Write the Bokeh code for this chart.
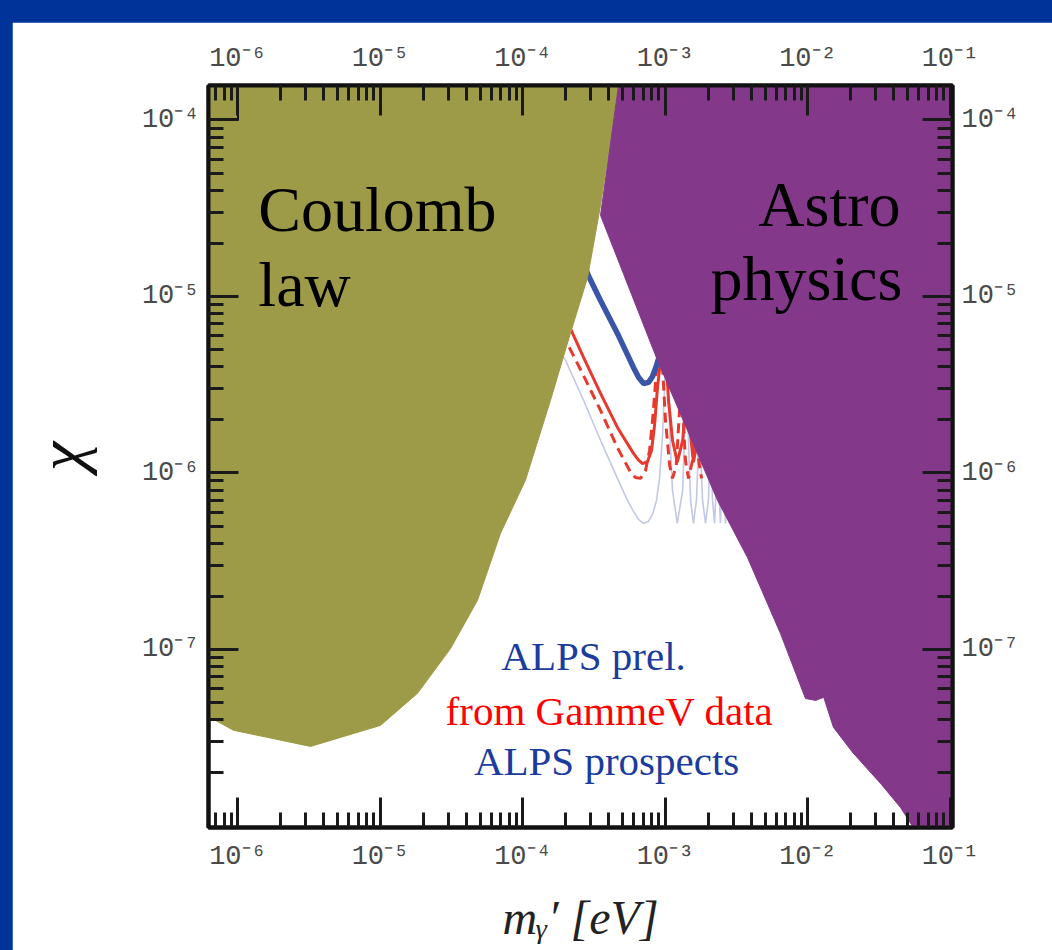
from bokeh.plotting import figure
from bokeh.models import LogAxis, FixedTicker, CustomJSTickFormatter, Label
from bokeh.layouts import column
from bokeh.embed import file_html
from bokeh.resources import INLINE

# ---------------- data ----------------
x_major = [1e-6, 1e-5, 1e-4, 1e-3, 1e-2, 1e-1]
y_major = [1e-7, 1e-6, 1e-5, 1e-4]

coulomb_m = [5e-7, 4.8e-4, 4.7e-4, 3.5e-4, 2.84e-4, 2.15e-4, 1.56e-4, 1.04e-4, 6.95e-5,
             4.80e-5, 3.10e-5, 1.82e-5, 1.0e-5, 3.23e-6, 9.29e-7, 6.2e-7, 5e-7]
coulomb_chi = [1e-3, 1e-3, 1.6e-4, 3.28e-5, 1.28e-5, 6.17e-6, 2.58e-6, 9.08e-7, 4.54e-7,
               1.90e-7, 1.01e-7, 5.64e-8, 3.71e-8, 2.82e-8, 3.48e-8, 4.17e-8, 4.3e-8]

astro_m = [4.8e-4, 0.2, 0.2, 5.86e-2, 4.46e-2, 3.23e-2, 2.08e-2, 1.51e-2, 1.29e-2, 1.13e-2,
           9.6e-3, 6.41e-3, 3.76e-3, 2.32e-3, 8.79e-4, 3.5e-4, 4.7e-4]
astro_chi = [1e-3, 1e-3, 9e-9, 9e-9, 1.27e-8, 1.74e-8, 2.58e-8, 3.61e-8, 5.35e-8, 5.14e-8,
             5.27e-8, 1.23e-7, 3.32e-7, 6.98e-7, 4.34e-6, 2.88e-5, 1.6e-4]

alps_m = [2.45e-4, 2.88e-4, 3.5e-4, 4.60e-4, 5.96e-4, 6.47e-4, 7.02e-4, 7.60e-4, 8.11e-4,
          8.65e-4, 9.53e-4]
alps_chi = [1.82e-5, 1.31e-5, 9.49e-6, 6.17e-6, 3.96e-6, 3.48e-6, 3.21e-6, 3.26e-6, 3.52e-6,
            4.06e-6, 5.27e-6]

gammev_m = [1.83e-4, 2.15e-4, 2.66e-4, 3.5e-4, 4.60e-4, 5.96e-4, 6.47e-4, 6.90e-4, 7.48e-4,
            7.98e-4, 8.38e-4, 8.79e-4, 9.23e-4, 9.84e-4, 1.05e-3, 1.12e-3, 1.21e-3, 1.32e-3,
            1.43e-3, 1.50e-3, 1.57e-3, 1.68e-3, 1.79e-3, 1.91e-3, 2.04e-3]
gammev_chi = [8.89e-6, 6.59e-6, 4.51e-6, 2.82e-6, 1.81e-6, 1.29e-6, 1.18e-6, 1.13e-6, 1.16e-6,
              1.34e-6, 1.86e-6, 3.05e-6, 4.34e-6, 6.41e-6, 2.58e-6, 1.53e-6, 1.15e-6, 1.53e-6,
              3.34e-6, 1.63e-6, 1.15e-6, 1.53e-6, 2.58e-6, 1.53e-6, 1.15e-6]

gammev2_m = [1.69e-4, 2.08e-4, 2.66e-4, 3.5e-4, 4.60e-4, 5.68e-4, 6.15e-4, 6.68e-4, 7.24e-4,
             7.73e-4, 8.11e-4, 8.65e-4, 9.23e-4, 1.0e-3, 1.07e-3, 1.12e-3, 1.19e-3, 1.29e-3,
             1.38e-3, 1.45e-3, 1.55e-3, 1.63e-3, 1.71e-3, 1.79e-3]
gammev2_chi = [7.5e-6, 5.27e-6, 3.56e-6, 2.26e-6, 1.39e-6, 1.01e-6, 9.42e-7, 9.31e-7, 1.03e-6,
               1.34e-6, 1.98e-6, 3.81e-6, 6.41e-6, 1.98e-6, 1.10e-6, 9.31e-7, 1.10e-6, 3.34e-6,
               1.18e-6, 9.31e-7, 1.18e-6, 2.58e-6, 1.18e-6, 9.31e-7]

prospect_m = [1.44e-4, 1.99e-4, 2.66e-4, 3.5e-4, 4.60e-4, 5.32e-4, 5.96e-4, 6.47e-4, 7.02e-4,
              7.60e-4, 8.11e-4, 8.65e-4, 9.08e-4, 9.53e-4, 9.84e-4, 1.02e-3, 1.07e-3, 1.12e-3,
              1.21e-3, 1.32e-3, 1.40e-3, 1.50e-3, 1.57e-3, 1.65e-3, 1.73e-3, 1.82e-3, 1.91e-3,
              2.00e-3, 2.07e-3, 2.14e-3, 2.21e-3, 2.32e-3, 2.43e-3, 2.51e-3, 2.64e-3, 2.72e-3,
              2.86e-3]
prospect_chi = [6.41e-6, 4.34e-6, 2.58e-6, 1.53e-6, 9.31e-7, 7.18e-7, 6.05e-7, 5.46e-7, 5.18e-7,
                5.31e-7, 5.82e-7, 6.98e-7, 9.31e-7, 1.63e-6, 2.93e-6, 5.64e-6, 1.74e-6, 7.96e-7,
                5.18e-7, 7.96e-7, 3.34e-6, 6.98e-7, 5.18e-7, 6.98e-7, 1.98e-6, 6.98e-7, 5.18e-7,
                6.98e-7, 1.53e-6, 6.98e-7, 5.18e-7, 1.2e-6, 5.18e-7, 1.2e-6, 5.18e-7, 1.2e-6,
                5.18e-7]

# ---------------- styling ----------------
PAGE_BLUE = "#003399"
OLIVE = "#9d9b47"
PURPLE = "#84388a"
TEXT_BLUE = "#1b3c9e"
TEXT_RED = "#ff0000"

p = figure(width=1040, height=928, margin=(22, 0, 0, 12),
           x_axis_type="log", y_axis_type="log",
           x_range=(6.21e-7, 1.033e-1), y_range=(9.79e-9, 1.567e-4),
           output_backend="svg", toolbar_location=None,
           min_border_left=196, min_border_right=100, min_border_top=63, min_border_bottom=123,
           background_fill_color="white", border_fill_color="white")
p.grid.visible = False
p.outline_line_color = "#111111"
p.outline_line_width = 4

# curves (drawn first so that the exclusion regions cover their ends)
p.line(prospect_m, prospect_chi, line_color="#c3c8e6", line_width=1.6)
p.line(gammev2_m, gammev2_chi, line_color="#e8392e", line_width=3, line_dash="10 6")
p.line(gammev_m, gammev_chi, line_color="#e8392e", line_width=3)
p.line(alps_m, alps_chi, line_color="#3a55a8", line_width=5.5)

p.patch(coulomb_m, coulomb_chi, fill_color=OLIVE, line_color=OLIVE, line_width=1)
p.patch(astro_m, astro_chi, fill_color=PURPLE, line_color=PURPLE, line_width=1)
p.quad(left=[5e-7], right=[1.0e-6], bottom=[1.0e-4], top=[1e-3],
       fill_color=None, line_color="#111111", line_width=2)

# axes
x_ticker = FixedTicker(ticks=x_major,
                       minor_ticks=[k * 10.0 ** n for n in range(-7, 0) for k in range(2, 10)])
y_ticker = FixedTicker(ticks=y_major,
                       minor_ticks=[k * 10.0 ** n for n in range(-9, -3) for k in range(2, 10)])
fmt_code = """
const sup = {"-": "\u207b", "0": "\u2070", "1": "\u00b9", "2": "\u00b2", "3": "\u00b3",
             "4": "\u2074", "5": "\u2075", "6": "\u2076", "7": "\u2077", "8": "\u2078", "9": "\u2079"};
const e = Math.round(Math.log10(tick));
return "10" + String(e).split("").map(c => sup[c]).join("");
"""
p.add_layout(LogAxis(), "above")
p.add_layout(LogAxis(), "right")
for ax in p.above + p.below:
    ax.ticker = x_ticker
for ax in p.left + p.right:
    ax.ticker = y_ticker
for ax in p.above + p.below + p.left + p.right:
    ax.formatter = CustomJSTickFormatter(code=fmt_code)
    ax.major_tick_in = 30
    ax.major_tick_out = 0
    ax.minor_tick_in = 15
    ax.minor_tick_out = 0
    ax.major_tick_line_width = 3
    ax.minor_tick_line_width = 3
    ax.major_tick_line_color = "#1a1a1a"
    ax.minor_tick_line_color = "#1a1a1a"
    ax.axis_line_width = 4
    ax.axis_line_color = "#111111"
    ax.major_label_text_font = "Liberation Mono"
    ax.major_label_text_font_size = "27px"
    ax.major_label_text_color = "#4a4a4a"
for ax in p.below:
    ax.major_label_standoff = 14
for ax in p.above:
    ax.major_label_standoff = 12
for ax in p.left + p.right:
    ax.major_label_standoff = 9

yl = p.left[0]
yl.axis_label = "\u03c7"
yl.axis_label_text_font = "Liberation Serif"
yl.axis_label_text_font_style = "italic"
yl.axis_label_text_font_size = "66px"
yl.axis_label_text_color = "#111111"
yl.axis_label_standoff = 42

xl = p.below[0]
xl.axis_label = "m\u1d67\u2032 [eV]"
xl.axis_label_text_font = "Liberation Serif"
xl.axis_label_text_font_style = "italic"
xl.axis_label_text_font_size = "48px"
xl.axis_label_text_color = "#222222"
xl.axis_label_standoff = 16


def add_text(x, y, text, size, color, align="left"):
    p.add_layout(Label(x=x, y=y, text=text, text_font="Liberation Serif",
                       text_font_size=size, text_color=color, text_align=align,
                       text_baseline="alphabetic"))


add_text(1.39e-6, 3.11e-5, "Coulomb", "64px", "#000000")
add_text(1.39e-6, 1.17e-5, "law", "64px", "#000000")
add_text(4.46e-2, 3.32e-5, "Astro", "64px", "#000000", align="right")
add_text(4.60e-2, 1.26e-5, "physics", "64px", "#000000", align="right")
add_text(3.13e-4, 9.12e-8, "ALPS prel.", "41px", TEXT_BLUE, align="center")
add_text(4.05e-4, 4.46e-8, "from GammeV data", "41px", TEXT_RED, align="center")
add_text(3.86e-4, 2.32e-8, "ALPS prospects", "41px", TEXT_BLUE, align="center")

root = column(p, styles={"background-color": PAGE_BLUE})
open("out.html", "w").write(file_html(root, INLINE))
